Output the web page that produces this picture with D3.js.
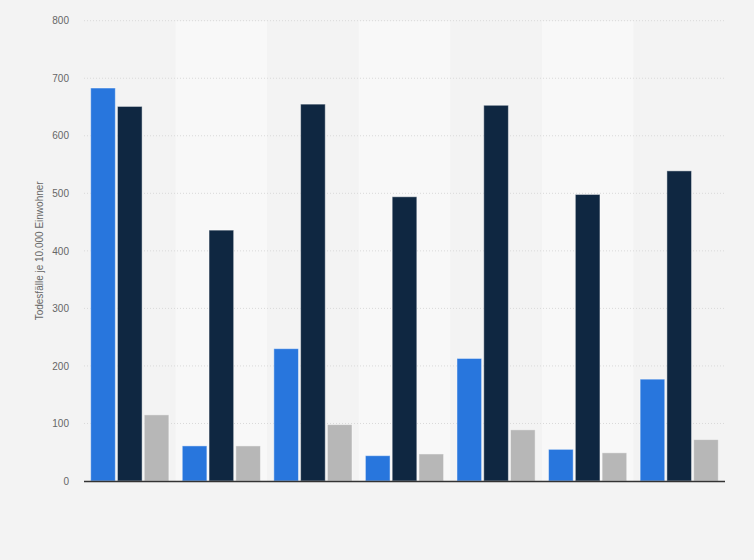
<!DOCTYPE html>
<html><head><meta charset="utf-8">
<script src="https://cdn.jsdelivr.net/npm/d3@7"></script>
<style>
html,body{margin:0;padding:0;background:#f3f3f3;}
svg{display:block;font-family:"Liberation Sans",Arial,sans-serif;}
</style></head>
<body>
<svg id="chart" width="754" height="560"></svg>
<script>
const categories = ["1","2","3","4","5","6","7"];
const seriesNames = ["Serie A","Serie B","Serie C"];
const seriesA = [683, 61, 230, 44, 213, 55, 177];
const seriesB = [651, 436, 655, 494, 653, 498, 539];
const seriesC = [115, 61, 98, 47, 89, 49, 72];
const yTicks = [0,100,200,300,400,500,600,700,800];
const colors = ["#2876dd","#0f2741","#b7b7b7"];
const yLabel = "Todesfälle je 10.000 Einwohner";

const svg = d3.select("#chart");
const m = {left:84, right:29, top:20.7, bottom:79};
const W = 754, H = 560;
const x0 = d3.scaleBand().domain(categories).range([m.left, W-m.right]).paddingInner(0).paddingOuter(0);
const x1 = d3.scaleBand().domain(seriesNames).range([0, x0.bandwidth()]).paddingInner(0.08).paddingOuter(0.25);
const y = d3.scaleLinear().domain([0,800]).range([H-m.bottom, m.top]);

svg.append("rect").attr("width",W).attr("height",H).attr("fill","#f3f3f3");

// alternating bands
svg.append("g").selectAll("rect").data(categories.filter((d,i)=>i%2===1)).join("rect")
  .attr("x", d=>x0(d)).attr("width", x0.bandwidth())
  .attr("y", y(800)).attr("height", y(0)-y(800))
  .attr("fill","#f8f8f8");

// grid
svg.append("g").selectAll("line").data(yTicks.filter(t=>t>0)).join("line")
  .attr("x1", m.left).attr("x2", W-m.right)
  .attr("y1", d=>y(d)).attr("y2", d=>y(d))
  .attr("stroke","#d9d9d9").attr("stroke-width",1).attr("stroke-dasharray","1,2");

// y axis
const yAxis = d3.axisLeft(y).tickValues(yTicks).tickSize(0).tickPadding(15).tickFormat(d3.format("d"));
const ga = svg.append("g").attr("transform",`translate(${m.left},0)`).call(yAxis);
ga.select(".domain").remove();
ga.selectAll("text").attr("fill","#666").style("font-size","10px");

// bars
const data = categories.map((c,i)=>({c, vals:[seriesA[i],seriesB[i],seriesC[i]]}));
const g = svg.append("g");
data.forEach(d=>{
  d.vals.forEach((v,j)=>{
    g.append("rect")
      .attr("x", x0(d.c)+x1(seriesNames[j]))
      .attr("width", x1.bandwidth())
      .attr("y", y(v)).attr("height", y(0)-y(v))
      .attr("fill", colors[j])
      .attr("stroke","rgba(255,255,255,0.45)").attr("stroke-width",1);
  });
});

// x axis line
svg.append("line").attr("x1",m.left).attr("x2",W-m.right)
  .attr("y1",y(0)+0.5).attr("y2",y(0)+0.5).attr("stroke","#333").attr("stroke-width",1.3);

// y label
svg.append("text").attr("transform",`translate(43,${(y(0)+y(800))/2}) rotate(-90)`)
  .attr("text-anchor","middle").attr("fill","#666").style("font-size","10px").text(yLabel);
</script>
</body></html>
